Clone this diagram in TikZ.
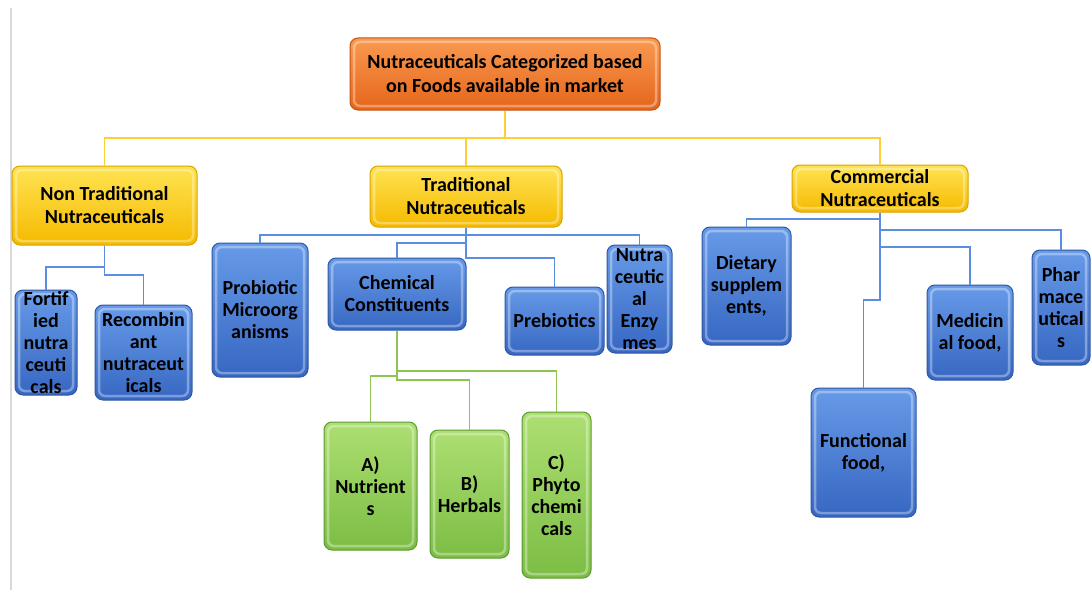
\documentclass[tikz,border=0pt]{standalone}
\usepackage{fontspec}
\setmainfont{Carlito}
\usetikzlibrary{positioning}
\definecolor{bluetop}{HTML}{679AE8}
\definecolor{bluebot}{HTML}{3767C2}
\definecolor{blueedge}{HTML}{2D58A5}
\definecolor{greentop}{HTML}{ADDF72}
\definecolor{greenbot}{HTML}{7CBD44}
\definecolor{greenedge}{HTML}{5E9A32}
\definecolor{yeltop}{HTML}{FFE352}
\definecolor{yelbot}{HTML}{F5BA00}
\definecolor{yeledge}{HTML}{D9A300}
\definecolor{ortop}{HTML}{F99A50}
\definecolor{orbot}{HTML}{E5651A}
\definecolor{oredge}{HTML}{C45412}
\definecolor{lineyel}{HTML}{FFCF3A}
\definecolor{lineblue}{HTML}{5B8DE0}
\definecolor{linegreen}{HTML}{8CC650}
\tikzset{
  gbox/.style={rounded corners=8pt, line width=1pt, align=center, inner sep=1pt,
    font=\bfseries\fontsize{20}{22}\selectfont,
    path picture={\draw[white,opacity=.35,line width=2.5pt,rounded corners=6pt]
      ([xshift=4pt,yshift=-4pt]path picture bounding box.north west) rectangle
      ([xshift=-4pt,yshift=4pt]path picture bounding box.south east);}},
  bluebox/.style={gbox, draw=blueedge, top color=bluetop, bottom color=bluebot},
  greenbox/.style={gbox, draw=greenedge, top color=greentop, bottom color=greenbot},
  yelbox/.style={gbox, draw=yeledge, top color=yeltop, bottom color=yelbot,
    font=\bfseries\fontsize{20}{23}\selectfont},
  orbox/.style={gbox, draw=oredge, top color=ortop, bottom color=orbot,
    font=\bfseries\fontsize{20}{24}\selectfont},
  yl/.style={draw=lineyel, line width=1.8pt},
  bl/.style={draw=lineblue, line width=1.6pt},
  gl/.style={draw=linegreen, line width=1.6pt},
}
\begin{document}
\begin{tikzpicture}[x=1pt,y=-1pt]
\useasboundingbox (0,0) rectangle (1091,594);
\fill[white] (0,0) rectangle (1091,594);
\draw[black!15, line width=1.5pt] (11,8) -- (11,590);

\node[orbox, minimum width=310pt, minimum height=72pt] (root) at (505,74) {Nutraceuticals Categorized based\\on Foods available in market};

\node[yelbox, minimum width=185pt, minimum height=79pt] (nontrad) at (104.5,205.5) {Non Traditional\\Nutraceuticals};
\node[yelbox, minimum width=192pt, minimum height=61pt] (trad) at (466,196.5) {Traditional\\Nutraceuticals};
\node[yelbox, minimum width=176pt, minimum height=47pt] (comm) at (880,188.5) {Commercial\\Nutraceuticals};

\node[bluebox, minimum width=62pt, minimum height=105pt] (fort) at (46,342.5) {Fortif\\ied\\nutra\\ceuti\\cals};
\node[bluebox, minimum width=97pt, minimum height=95pt] (recomb) at (143.5,352.5) {Recombin\\ant\\nutraceut\\icals};

\node[bluebox, minimum width=96pt, minimum height=134pt] (prob) at (260,310) {Probiotic\\Microorg\\anisms};
\node[bluebox, minimum width=138pt, minimum height=72pt] (chem) at (397,294) {Chemical\\Constituents};
\node[bluebox, minimum width=99pt, minimum height=68pt] (preb) at (554.5,321) {Prebiotics};
\node[bluebox, minimum width=65pt, minimum height=108pt] (enz) at (639.5,299) {Nutra\\ceutic\\al\\Enzy\\mes};

\node[bluebox, minimum width=89pt, minimum height=118pt] (diet) at (746.5,286) {Dietary\\supplem\\ents,};
\node[bluebox, minimum width=86pt, minimum height=95pt] (med) at (970,332.5) {Medicin\\al food,};
\node[bluebox, minimum width=58pt, minimum height=115pt] (pharm) at (1061,307.5) {Phar\\mace\\utical\\s};
\node[bluebox, minimum width=105pt, minimum height=129pt] (func) at (863.5,452.5) {Functional\\food,};

\node[greenbox, minimum width=93pt, minimum height=128pt] (nutr) at (370.5,486) {A)\\Nutrient\\s};
\node[greenbox, minimum width=79pt, minimum height=128pt] (herb) at (469.5,494) {B)\\Herbals};
\node[greenbox, minimum width=69pt, minimum height=166pt] (phyto) at (556.5,495) {C)\\Phyto\\chemi\\cals};

% root connectors
\draw[yl] (root.south) -- (root.south |- 0,138) -| (nontrad.north);
\draw[yl] (root.south) -- (root.south |- 0,138) -| (trad.north);
\draw[yl] (root.south) -- (root.south |- 0,138) -| (comm.north);

% non traditional
\draw[bl] (nontrad.south) -- (nontrad.south |- 0,267) -| (fort.north);
\draw[bl] (nontrad.south) -- (nontrad.south |- 0,275) -| (recomb.north);

% traditional
\draw[bl] (trad.south) -- (trad.south |- 0,235) -| (prob.north);
\draw[bl] (trad.south) -- (trad.south |- 0,235) -| (enz.north);
\draw[bl] (trad.south) -- (trad.south |- 0,243) -| (chem.north);
\draw[bl] (trad.south) -- (trad.south |- 0,258) -| (preb.north);

% commercial
\draw[bl] (comm.south) -- (comm.south |- 0,219) -| (diet.north);
\draw[bl] (comm.south) -- (comm.south |- 0,230) -| (pharm.north);
\draw[bl] (comm.south) -- (comm.south |- 0,247) -| (med.north);
\draw[bl] (comm.south) -- (comm.south |- 0,300) -| (func.north);

% chemical constituents
\draw[gl] (chem.south) -- (chem.south |- 0,371) -| (phyto.north);
\draw[gl] (chem.south) -- (chem.south |- 0,376) -| (nutr.north);
\draw[gl] (chem.south) -- (chem.south |- 0,380) -| (herb.north);
\end{tikzpicture}
\end{document}
